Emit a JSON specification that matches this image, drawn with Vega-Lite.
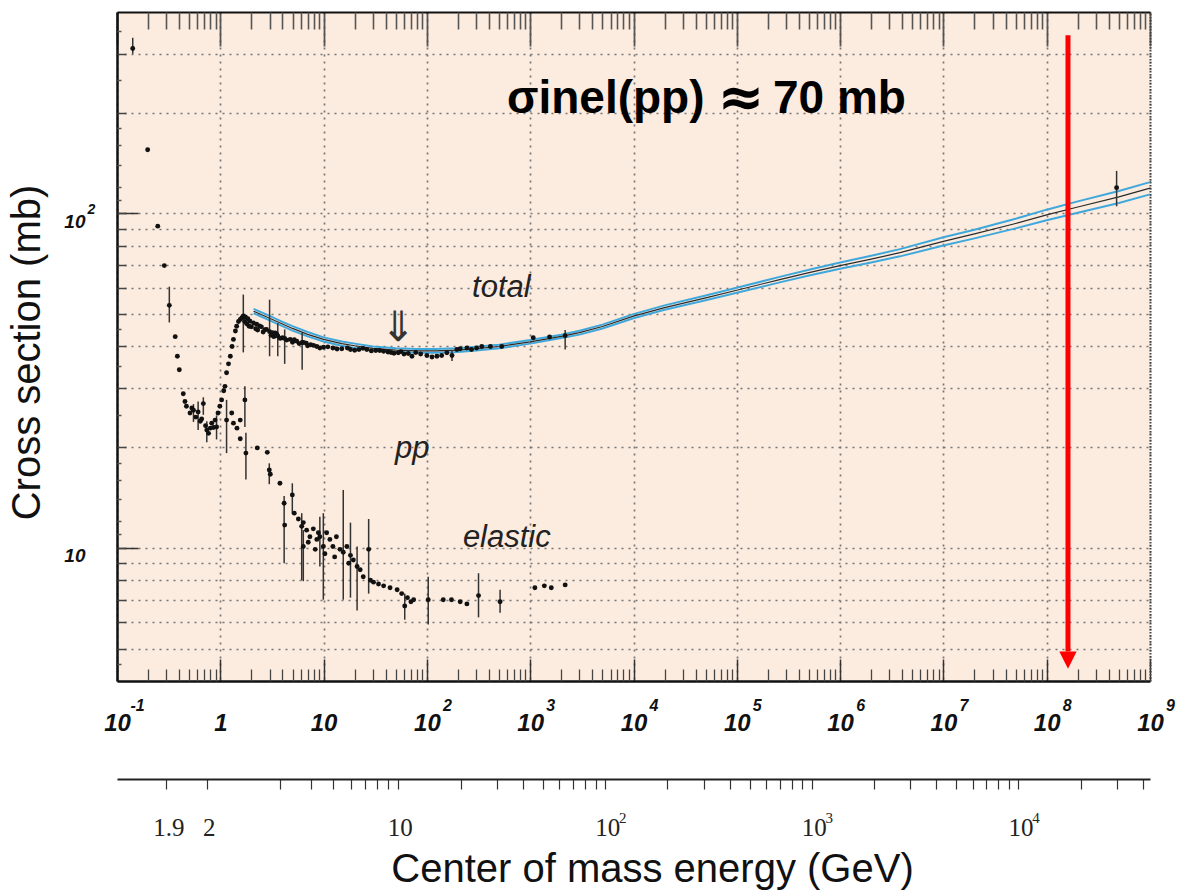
{
  "$schema": "https://vega.github.io/schema/vega-lite/v6.json",
  "width": 1033,
  "height": 669,
  "autosize": {"type": "none"},
  "padding": {"left": 117, "top": 12, "right": 27, "bottom": 210},
  "background": "#ffffff",
  "config": {
    "view": {"fill": "#fcebdf", "stroke": null},
    "axis": {"grid": false, "domain": false, "ticks": false, "labels": false, "labelFlush": false, "labelOverlap": false, "labelBound": false, "title": null}
  },
  "datasets": {
    "fit": [
      {"p": 2.1, "c": 51.0, "u": 51.8, "l": 50.3},
      {"p": 3, "c": 48.6, "u": 49.4, "l": 47.9},
      {"p": 4, "c": 46.7, "u": 47.4, "l": 46.0},
      {"p": 5, "c": 45.3, "u": 46.0, "l": 44.6},
      {"p": 7, "c": 43.5, "u": 44.2, "l": 42.9},
      {"p": 10, "c": 42.0, "u": 42.6, "l": 41.4},
      {"p": 15, "c": 40.8, "u": 41.4, "l": 40.2},
      {"p": 20, "c": 40.2, "u": 40.8, "l": 39.6},
      {"p": 30, "c": 39.5, "u": 40.0, "l": 39.0},
      {"p": 50, "c": 39.0, "u": 39.5, "l": 38.5},
      {"p": 80, "c": 38.8, "u": 39.3, "l": 38.3},
      {"p": 120, "c": 38.8, "u": 39.3, "l": 38.3},
      {"p": 200, "c": 39.0, "u": 39.5, "l": 38.5},
      {"p": 300, "c": 39.4, "u": 39.9, "l": 38.9},
      {"p": 500, "c": 40.0, "u": 40.5, "l": 39.5},
      {"p": 1000, "c": 41.3, "u": 41.8, "l": 40.8},
      {"p": 2000, "c": 42.9, "u": 43.4, "l": 42.4},
      {"p": 3000, "c": 44.0, "u": 44.6, "l": 43.4},
      {"p": 5000, "c": 45.9, "u": 46.5, "l": 45.3},
      {"p": 10000, "c": 49.3, "u": 50.0, "l": 48.6},
      {"p": 20000, "c": 52.3, "u": 53.1, "l": 51.5},
      {"p": 50000, "c": 55.9, "u": 56.8, "l": 55.0},
      {"p": 100000, "c": 58.9, "u": 59.9, "l": 57.9},
      {"p": 260000, "c": 63.4, "u": 64.6, "l": 62.2},
      {"p": 500000, "c": 66.5, "u": 67.8, "l": 65.2},
      {"p": 1000000, "c": 69.8, "u": 71.3, "l": 68.3},
      {"p": 2000000, "c": 73.0, "u": 74.7, "l": 71.3},
      {"p": 3800000, "c": 76.3, "u": 78.2, "l": 74.4},
      {"p": 10000000, "c": 82.5, "u": 84.8, "l": 80.2},
      {"p": 20000000, "c": 86.8, "u": 89.4, "l": 84.2},
      {"p": 50000000, "c": 93.3, "u": 96.4, "l": 90.2},
      {"p": 100000000, "c": 99.0, "u": 102.6, "l": 95.4},
      {"p": 200000000, "c": 104.5, "u": 108.6, "l": 100.5},
      {"p": 500000000, "c": 112.0, "u": 116.6, "l": 107.4},
      {"p": 1000000000, "c": 119.0, "u": 124.0, "l": 114.0}
    ],
    "pts": [
      {"p": 0.142, "s": 311, "lo": 300, "hi": 335},
      {"p": 0.198, "s": 155},
      {"p": 0.248, "s": 91.6},
      {"p": 0.287, "s": 69.8},
      {"p": 0.321, "s": 53.1, "lo": 47.2, "hi": 60.4},
      {"p": 0.366, "s": 42.8},
      {"p": 0.384, "s": 37.4},
      {"p": 0.401, "s": 34.1},
      {"p": 0.438, "s": 28.9},
      {"p": 0.455, "s": 27.4},
      {"p": 0.47, "s": 26.5},
      {"p": 0.509, "s": 25.3},
      {"p": 0.53, "s": 26.2},
      {"p": 0.55, "s": 25.8, "lo": 23.8, "hi": 26.9},
      {"p": 0.58, "s": 24.6},
      {"p": 0.61, "s": 25.5, "lo": 22.5, "hi": 27.4},
      {"p": 0.64, "s": 23.9},
      {"p": 0.66, "s": 24.3},
      {"p": 0.685, "s": 27.0, "lo": 25.0, "hi": 28.2},
      {"p": 0.72, "s": 23.2},
      {"p": 0.74, "s": 22.5, "lo": 20.7, "hi": 23.9},
      {"p": 0.77, "s": 22.0},
      {"p": 0.8, "s": 22.8},
      {"p": 0.826, "s": 23.6},
      {"p": 0.86, "s": 22.9},
      {"p": 0.89, "s": 24.1},
      {"p": 0.92, "s": 23.0, "lo": 21.1, "hi": 24.9},
      {"p": 0.95, "s": 25.3},
      {"p": 0.99, "s": 26.5},
      {"p": 1.03, "s": 27.7},
      {"p": 1.08, "s": 29.5},
      {"p": 1.11, "s": 30.4},
      {"p": 1.15, "s": 33.4},
      {"p": 1.2, "s": 35.5},
      {"p": 1.25, "s": 37.4},
      {"p": 1.3, "s": 40.0},
      {"p": 1.34, "s": 42.0},
      {"p": 1.4, "s": 44.5},
      {"p": 1.44, "s": 46.0},
      {"p": 1.5, "s": 47.5},
      {"p": 1.56, "s": 48.2},
      {"p": 1.62, "s": 48.8},
      {"p": 1.67, "s": 49.4, "lo": 38.4, "hi": 57.2},
      {"p": 1.72, "s": 47.5},
      {"p": 1.75, "s": 49.0},
      {"p": 1.8, "s": 46.8},
      {"p": 1.85, "s": 48.4},
      {"p": 1.9, "s": 46.0},
      {"p": 1.94, "s": 47.6},
      {"p": 2.0, "s": 45.8},
      {"p": 2.1, "s": 47.0},
      {"p": 2.2, "s": 45.2},
      {"p": 2.25, "s": 46.6},
      {"p": 2.3, "s": 44.8},
      {"p": 2.4, "s": 46.1},
      {"p": 2.5, "s": 45.8},
      {"p": 2.6, "s": 44.2},
      {"p": 2.7, "s": 44.9},
      {"p": 2.8, "s": 45.0},
      {"p": 3.0, "s": 44.3, "lo": 37.4, "hi": 55.2},
      {"p": 3.1, "s": 43.2},
      {"p": 3.2, "s": 44.0},
      {"p": 3.3, "s": 42.8},
      {"p": 3.4, "s": 43.9},
      {"p": 3.52, "s": 43.5},
      {"p": 3.6, "s": 43.0, "lo": 37.4, "hi": 47.0},
      {"p": 3.8, "s": 42.3},
      {"p": 4.0, "s": 42.5},
      {"p": 4.2, "s": 42.3, "lo": 35.5, "hi": 45.0},
      {"p": 4.4, "s": 41.8},
      {"p": 4.75, "s": 42.0},
      {"p": 5.0, "s": 41.2},
      {"p": 5.2, "s": 41.9},
      {"p": 5.5, "s": 41.5},
      {"p": 5.8, "s": 40.8},
      {"p": 6.2, "s": 41.1, "lo": 34.1, "hi": 44.0},
      {"p": 6.4, "s": 41.1},
      {"p": 6.8, "s": 40.9},
      {"p": 7.0, "s": 40.2},
      {"p": 7.5, "s": 40.5},
      {"p": 8.0, "s": 40.3},
      {"p": 8.6, "s": 40.0},
      {"p": 9.2, "s": 39.6},
      {"p": 10, "s": 39.8},
      {"p": 11, "s": 39.9},
      {"p": 12.3, "s": 39.6},
      {"p": 13.5, "s": 39.3},
      {"p": 15, "s": 39.4},
      {"p": 17, "s": 39.6},
      {"p": 18.2, "s": 39.2},
      {"p": 20, "s": 39.0},
      {"p": 22, "s": 39.2},
      {"p": 24, "s": 39.5},
      {"p": 26.2, "s": 39.2},
      {"p": 29, "s": 38.8},
      {"p": 32, "s": 38.9},
      {"p": 35, "s": 38.9},
      {"p": 38.1, "s": 38.7},
      {"p": 42, "s": 38.5},
      {"p": 45, "s": 38.4},
      {"p": 48, "s": 38.2},
      {"p": 52.8, "s": 38.3},
      {"p": 56, "s": 38.6},
      {"p": 60, "s": 38.0},
      {"p": 66, "s": 38.1},
      {"p": 71.7, "s": 37.4},
      {"p": 78, "s": 38.4},
      {"p": 87, "s": 38.0},
      {"p": 100, "s": 37.6},
      {"p": 112, "s": 37.2},
      {"p": 125, "s": 37.4},
      {"p": 139, "s": 37.6},
      {"p": 156, "s": 38.3},
      {"p": 175, "s": 37.6, "lo": 36.2, "hi": 38.8},
      {"p": 195, "s": 39.2},
      {"p": 210, "s": 39.4},
      {"p": 244, "s": 39.6},
      {"p": 270, "s": 39.2},
      {"p": 303, "s": 39.6},
      {"p": 340, "s": 40.0},
      {"p": 412, "s": 40.0},
      {"p": 530, "s": 40.0},
      {"p": 1070, "s": 42.5},
      {"p": 1540, "s": 42.7},
      {"p": 2180, "s": 43.1, "lo": 39.2, "hi": 44.8},
      {"p": 475000000, "s": 119.4, "lo": 105, "hi": 134},
      {"p": 1.15, "s": 24.1, "lo": 19.2, "hi": 27.7},
      {"p": 1.29, "s": 25.3},
      {"p": 1.34, "s": 23.6},
      {"p": 1.45, "s": 22.8},
      {"p": 1.56, "s": 24.1},
      {"p": 1.56, "s": 21.2},
      {"p": 1.73, "s": 27.7, "lo": 23.0, "hi": 30.4},
      {"p": 1.77, "s": 19.2, "lo": 16.0, "hi": 22.1},
      {"p": 2.28, "s": 19.9},
      {"p": 2.85, "s": 19.3},
      {"p": 2.98, "s": 17.1, "lo": 15.5, "hi": 17.9},
      {"p": 3.05, "s": 16.6},
      {"p": 3.78, "s": 15.6},
      {"p": 4.15, "s": 13.6, "lo": 9.0, "hi": 14.3},
      {"p": 4.2, "s": 11.7},
      {"p": 4.98, "s": 14.4, "lo": 12.7, "hi": 15.6},
      {"p": 5.2, "s": 12.7},
      {"p": 5.7, "s": 12.2},
      {"p": 6.14, "s": 11.6, "lo": 8.0, "hi": 12.7},
      {"p": 6.36, "s": 11.9},
      {"p": 6.36, "s": 10.1, "lo": 7.95, "hi": 11.3},
      {"p": 6.85, "s": 11.3},
      {"p": 7.1, "s": 10.4},
      {"p": 7.37, "s": 10.8},
      {"p": 7.95, "s": 11.4},
      {"p": 8.3, "s": 9.9},
      {"p": 8.6, "s": 10.6},
      {"p": 8.9, "s": 11.1},
      {"p": 9.2, "s": 10.8, "lo": 8.8, "hi": 12.4},
      {"p": 9.94, "s": 10.1, "lo": 7.0, "hi": 12.7},
      {"p": 10.3, "s": 9.6},
      {"p": 10.7, "s": 11.1},
      {"p": 11.5, "s": 10.6},
      {"p": 12.3, "s": 10.1},
      {"p": 12.8, "s": 9.4},
      {"p": 13.3, "s": 10.8},
      {"p": 14.4, "s": 9.9},
      {"p": 15.5, "s": 9.7, "lo": 7.0, "hi": 14.9},
      {"p": 16.8, "s": 10.1},
      {"p": 17.5, "s": 9.0},
      {"p": 18.2, "s": 9.5, "lo": 7.1, "hi": 11.9},
      {"p": 19.4, "s": 9.2},
      {"p": 21.1, "s": 8.8, "lo": 6.5, "hi": 10.1},
      {"p": 22.6, "s": 8.6},
      {"p": 24.2, "s": 8.2},
      {"p": 27.3, "s": 9.9, "lo": 7.3, "hi": 12.2},
      {"p": 28.4, "s": 8.0},
      {"p": 30.4, "s": 7.9},
      {"p": 34, "s": 7.8},
      {"p": 38.1, "s": 7.7},
      {"p": 44, "s": 7.6},
      {"p": 51.5, "s": 7.5},
      {"p": 57, "s": 7.3},
      {"p": 61, "s": 6.7, "lo": 6.1, "hi": 7.3},
      {"p": 64.8, "s": 7.1},
      {"p": 70, "s": 6.9},
      {"p": 74.4, "s": 7.0},
      {"p": 103, "s": 7.0, "lo": 5.9, "hi": 8.2},
      {"p": 144, "s": 7.0},
      {"p": 173, "s": 7.0},
      {"p": 210, "s": 6.9},
      {"p": 244, "s": 6.8},
      {"p": 316, "s": 7.2, "lo": 6.2, "hi": 8.4},
      {"p": 511, "s": 6.9, "lo": 6.4, "hi": 7.5},
      {"p": 1110, "s": 7.6},
      {"p": 1370, "s": 7.7},
      {"p": 1600, "s": 7.6},
      {"p": 2180, "s": 7.75}
    ],
    "lab": [
      {"p": 273.6, "s": 56.4, "t": "total"},
      {"p": 49.1, "s": 18.6, "t": "pp"},
      {"p": 223, "s": 10.07, "t": "elastic"}
    ],
    "dbl": [{"p": 52.5, "s": 41.5, "t": "⇓"}],
    "sig": [
      {"p": 596, "s": 200, "t": "σinel(pp)"},
      {"p": 224000, "s": 200, "t": "70 mb"}
    ],
    "apx": [{"p": 109800, "s": 196, "t": "≈"}],
    "arr": [{"p": 160700000, "s1": 341, "s2": 4.9, "sh": 4.62}]
  },
  "resolve": {"axis": {"x": "independent", "y": "independent"}},
  "layer": [
    {
      "data": {"name": "fit"},
      "mark": {"type": "line", "color": "#3ea8dc", "strokeWidth": 2},
      "encoding": {
        "x": {"field": "p", "type": "quantitative", "title": null, "scale": {"type": "log", "domain": [0.1, 1000000000], "nice": false},
          "axis": {"orient": "bottom", "values": [0.1, 1, 10, 100, 1000, 10000, 100000, 1000000, 10000000, 100000000, 1000000000], "labels": true, "labelExpr": "datum.value == 1 ? '1' : '10'", "labelFont": "Liberation Sans", "labelFontSize": 24, "labelFontWeight": "bold", "labelFontStyle": "italic", "labelColor": "#111", "labelBaseline": "top", "labelPadding": 30,
            "encode": {"labels": {"update": {"dx": {"signal": "datum.value < 0.5 ? -7 : 3"}}}}}},
        "y": {"field": "u", "type": "quantitative", "title": null, "scale": {"type": "log", "domain": [4, 400], "nice": false},
          "axis": {"orient": "left", "values": [10, 100], "labels": true, "labelExpr": "'10'", "labelFont": "Liberation Sans", "labelFontSize": 19, "labelFontWeight": "bold", "labelFontStyle": "italic", "labelColor": "#111", "labelAlign": "right", "labelBaseline": "top", "labelPadding": 32, "labelOffset": -1,
            "title": "Cross section (mb)", "titleFont": "Liberation Sans", "titleFontSize": 40, "titleFontWeight": "normal", "titleColor": "#111", "titleX": -90, "titleY": 340, "titleAngle": 270, "titleAlign": "center", "titleBaseline": "middle"}}
      }
    },
    {
      "data": {"name": "fit"},
      "mark": {"type": "line", "color": "#3ea8dc", "strokeWidth": 2},
      "encoding": {
        "x": {"field": "p", "type": "quantitative", "title": null, "scale": {"type": "log", "domain": [0.1, 1000000000], "nice": false},
          "axis": {"orient": "bottom", "values": [0.1, 100, 1000, 10000, 100000, 1000000, 10000000, 100000000, 1000000000], "labels": true, "labelExpr": "datum.value < 1 ? '-1' : '' + round(log(datum.value) / LN10)", "labelFont": "Liberation Sans", "labelFontSize": 16, "labelFontWeight": "bold", "labelFontStyle": "italic", "labelColor": "#111", "labelBaseline": "top", "labelPadding": 16, "labelOffset": 20}},
        "y": {"field": "l", "type": "quantitative", "title": null, "scale": {"type": "log", "domain": [4, 400], "nice": false},
          "axis": {"orient": "left", "values": [100], "labels": true, "labelExpr": "'2'", "labelFont": "Liberation Sans", "labelFontSize": 14, "labelFontWeight": "bold", "labelFontStyle": "italic", "labelColor": "#111", "labelAlign": "left", "labelBaseline": "middle", "labelPadding": 30, "labelOffset": -4}}
      }
    },
    {
      "data": {"name": "fit"},
      "mark": {"type": "line", "color": "#2a2a2a", "strokeWidth": 1.2},
      "encoding": {
        "x": {"field": "p", "type": "quantitative", "title": null, "scale": {"type": "log", "domain": [0.1, 1000000000], "nice": false},
          "axis": {"orient": "bottom", "values": [0.1, 1, 10, 100, 1000, 10000, 100000, 1000000, 10000000, 100000000, 1000000000], "ticks": true, "tickSize": -22, "tickWidth": 1.5, "tickColor": "#333", "domain": true, "domainColor": "#111", "domainWidth": 2.5, "grid": true, "gridDash": [2, 5], "gridColor": "#777777", "gridWidth": 1.7}},
        "y": {"field": "c", "type": "quantitative", "title": null, "scale": {"type": "log", "domain": [4, 400], "nice": false},
          "axis": {"orient": "left", "values": [10, 100], "ticks": true, "tickSize": -21, "tickWidth": 1.5, "tickColor": "#333", "domain": true, "domainColor": "#111", "domainWidth": 2.5}}
      }
    },
    {
      "data": {"name": "pts"},
      "transform": [{"filter": "isValid(datum.lo)"}],
      "mark": {"type": "rule", "color": "#333", "strokeWidth": 1.5},
      "encoding": {
        "x": {"field": "p", "type": "quantitative", "title": null, "scale": {"type": "log", "domain": [0.1, 1000000000], "nice": false},
          "axis": {"orient": "bottom", "values": [0.2, 0.3, 0.4, 0.5, 0.6, 0.7, 0.8, 0.9, 2, 3, 4, 5, 6, 7, 8, 9, 20, 30, 40, 50, 60, 70, 80, 90, 200, 300, 400, 500, 600, 700, 800, 900, 2000, 3000, 4000, 5000, 6000, 7000, 8000, 9000, 20000, 30000, 40000, 50000, 60000, 70000, 80000, 90000, 200000, 300000, 400000, 500000, 600000, 700000, 800000, 900000, 2000000, 3000000, 4000000, 5000000, 6000000, 7000000, 8000000, 9000000, 20000000, 30000000, 40000000, 50000000, 60000000, 70000000, 80000000, 90000000, 200000000, 300000000, 400000000, 500000000, 600000000, 700000000, 800000000, 900000000], "ticks": true, "tickSize": -12, "tickWidth": 1.3, "tickColor": "#444"}},
        "y": {"field": "lo", "type": "quantitative", "title": null, "scale": {"type": "log", "domain": [4, 400], "nice": false},
          "axis": {"orient": "left", "values": [5, 6, 7, 8, 9, 10, 20, 30, 40, 50, 60, 70, 80, 90, 100, 200, 300], "ticks": true, "tickSize": -9, "tickWidth": 1.5, "tickColor": "#444", "grid": true, "gridDash": [2, 5], "gridColor": "#777777", "gridWidth": 1.7}},
        "y2": {"field": "hi"}
      }
    },
    {
      "data": {"name": "pts"},
      "mark": {"type": "point", "filled": true, "size": 24, "color": "#111", "opacity": 1},
      "encoding": {
        "x": {"field": "p", "type": "quantitative", "title": null, "scale": {"type": "log", "domain": [0.1, 1000000000], "nice": false},
          "axis": {"orient": "top", "values": [0.1, 1, 10, 100, 1000, 10000, 100000, 1000000, 10000000, 100000000, 1000000000], "ticks": true, "tickSize": -34, "tickWidth": 1.8, "tickColor": "#555", "domain": true, "domainColor": "#111", "domainWidth": 2}},
        "y": {"field": "s", "type": "quantitative", "title": null, "scale": {"type": "log", "domain": [4, 400], "nice": false},
          "axis": {"orient": "left", "values": [4.5, 11, 12, 14, 16, 18, 25, 35, 45, 110, 120, 140, 160, 180, 250, 350], "ticks": true, "tickSize": -4, "tickWidth": 1.5, "tickColor": "#555"}}
      }
    },
    {
      "data": {"name": "lab"},
      "mark": {"type": "text", "font": "Liberation Sans", "fontSize": 31, "fontStyle": "italic", "align": "left", "baseline": "alphabetic", "color": "#222"},
      "encoding": {
        "x": {"field": "p", "type": "quantitative", "title": null, "scale": {"type": "log", "domain": [0.1, 1000000000], "nice": false},
          "axis": {"orient": "top", "values": [0.2, 0.3, 0.4, 0.5, 0.6, 0.7, 0.8, 0.9, 2, 3, 4, 5, 6, 7, 8, 9, 20, 30, 40, 50, 60, 70, 80, 90, 200, 300, 400, 500, 600, 700, 800, 900, 2000, 3000, 4000, 5000, 6000, 7000, 8000, 9000, 20000, 30000, 40000, 50000, 60000, 70000, 80000, 90000, 200000, 300000, 400000, 500000, 600000, 700000, 800000, 900000, 2000000, 3000000, 4000000, 5000000, 6000000, 7000000, 8000000, 9000000, 20000000, 30000000, 40000000, 50000000, 60000000, 70000000, 80000000, 90000000, 200000000, 300000000, 400000000, 500000000, 600000000, 700000000, 800000000, 900000000], "ticks": true, "tickSize": -17, "tickWidth": 1.6, "tickColor": "#555"}},
        "y": {"field": "s", "type": "quantitative", "title": null, "scale": {"type": "log", "domain": [4, 400], "nice": false},
          "axis": {"orient": "right", "domain": true, "domainColor": "#444", "domainWidth": 2, "domainDash": [1.5, 1.5]}},
        "text": {"field": "t"}
      }
    },
    {
      "data": {"name": "dbl"},
      "mark": {"type": "text", "font": "DejaVu Sans", "fontSize": 42, "align": "center", "baseline": "alphabetic", "color": "#333"},
      "encoding": {
        "x": {"field": "p", "type": "quantitative", "title": null, "scale": {"type": "log", "domain": [0.1, 1000000000], "nice": false},
          "axis": {"orient": "bottom", "offset": 98, "values": [0.30136, 0.73732, 3.74194, 7.52983, 12.3485, 18.2218, 25.1561, 33.154, 42.2159, 52.3429, 212.218, 478.667, 851.694, 1331.3, 1917.49, 2610.25, 3409.59, 4315.52, 5328.02, 21314.9, 47959.7, 85262.4, 133223, 191841, 261118, 341052, 431645, 532895, 2131584, 4796064, 8526336, 13322400, 19184256, 26111904, 34105344, 43164576, 53289600, 213158400, 479606400, 852633600],
            "ticks": true, "tickSize": 10, "tickWidth": 1.2, "tickColor": "#333", "domain": true, "domainColor": "#222", "domainWidth": 2,
            "title": "Center of mass energy (GeV)", "titleFont": "Liberation Sans", "titleFontSize": 40, "titleFontWeight": "normal", "titleColor": "#111", "titleX": 535, "titleY": 102, "titleAlign": "center", "titleBaseline": "alphabetic", "titleAngle": 0}},
        "y": {"field": "s", "type": "quantitative", "title": null, "scale": {"type": "log", "domain": [4, 400], "nice": false}, "axis": null},
        "text": {"field": "t"}
      }
    },
    {
      "data": {"name": "sig"},
      "mark": {"type": "text", "font": "Liberation Sans", "fontSize": 46, "fontWeight": "bold", "align": "left", "baseline": "alphabetic", "color": "#000"},
      "encoding": {
        "x": {"field": "p", "type": "quantitative", "title": null, "scale": {"type": "log", "domain": [0.1, 1000000000], "nice": false},
          "axis": {"orient": "bottom", "offset": 98, "values": [0.30136, 0.73732, 52.3429, 5328.02, 532895, 53289600], "labels": true, "labelExpr": "datum.value < 0.5 ? '1.9' : datum.value < 1 ? '2' : '10'", "labelFont": "Liberation Serif", "labelFontSize": 25, "labelColor": "#222", "labelBaseline": "top", "labelPadding": 36, "labelOffset": 2}},
        "y": {"field": "s", "type": "quantitative", "title": null, "scale": {"type": "log", "domain": [4, 400], "nice": false}, "axis": null},
        "text": {"field": "t"}
      }
    },
    {
      "data": {"name": "apx"},
      "mark": {"type": "text", "font": "DejaVu Sans", "fontSize": 56, "fontWeight": "bold", "align": "center", "baseline": "alphabetic", "color": "#000"},
      "encoding": {
        "x": {"field": "p", "type": "quantitative", "title": null, "scale": {"type": "log", "domain": [0.1, 1000000000], "nice": false},
          "axis": {"orient": "bottom", "offset": 98, "values": [5328.02, 532895, 53289600], "labels": true, "labelExpr": "datum.value < 10000 ? '2' : datum.value < 1000000 ? '3' : '4'", "labelFont": "Liberation Serif", "labelFontSize": 15, "labelColor": "#222", "labelBaseline": "top", "labelPadding": 31, "labelOffset": 17}},
        "y": {"field": "s", "type": "quantitative", "title": null, "scale": {"type": "log", "domain": [4, 400], "nice": false}, "axis": null},
        "text": {"field": "t"}
      }
    },
    {
      "data": {"name": "arr"},
      "mark": {"type": "rule", "color": "#ff0000", "strokeWidth": 5},
      "encoding": {
        "x": {"field": "p", "type": "quantitative", "title": null, "scale": {"type": "log", "domain": [0.1, 1000000000], "nice": false}, "axis": null},
        "y": {"field": "s1", "type": "quantitative", "title": null, "scale": {"type": "log", "domain": [4, 400], "nice": false}, "axis": null},
        "y2": {"field": "s2"}
      }
    },
    {
      "data": {"name": "arr"},
      "mark": {"type": "point", "shape": "M-1,-1L1,-1L0,1Z", "filled": true, "size": 300, "color": "#ff0000", "opacity": 1},
      "encoding": {
        "x": {"field": "p", "type": "quantitative", "title": null, "scale": {"type": "log", "domain": [0.1, 1000000000], "nice": false}, "axis": null},
        "y": {"field": "sh", "type": "quantitative", "title": null, "scale": {"type": "log", "domain": [4, 400], "nice": false}, "axis": null}
      }
    }
  ]
}
